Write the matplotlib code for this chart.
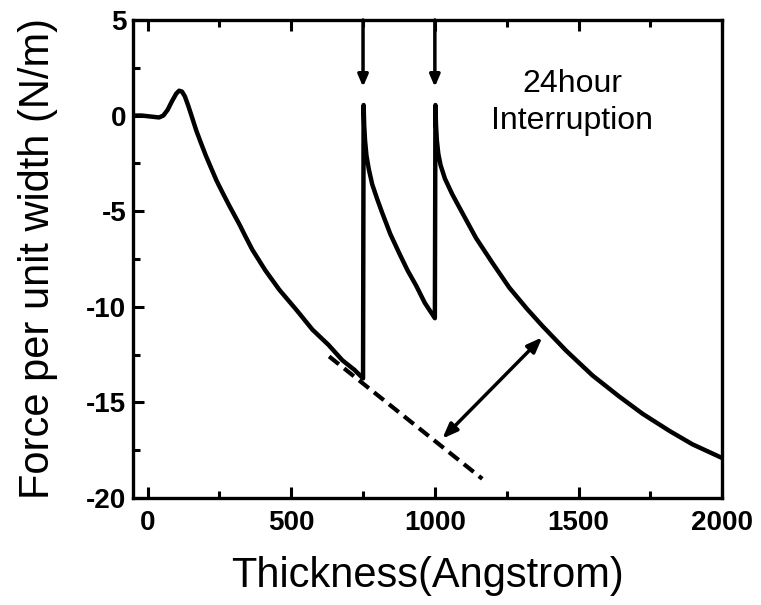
import matplotlib
matplotlib.use("Agg")
import matplotlib.pyplot as plt
from matplotlib.ticker import MultipleLocator

plt.rcParams['font.family'] = ['Liberation Sans', 'DejaVu Sans']
plt.rcParams['axes.unicode_minus'] = False

# Measured curve: growth, then two 24-hour interruptions at 750 and 1000 Angstrom
thickness = [-50, -20, 10, 40, 55, 70, 85, 100, 110, 120, 130, 142, 155, 170, 185, 203,
             220, 240, 260, 284, 320, 340, 364, 410, 458, 520, 574, 630, 678, 720, 750,
             752, 754, 757, 762, 770, 782, 800, 817, 845, 876, 905, 935, 965, 1000,
             1002, 1004, 1007, 1012, 1020, 1035, 1060, 1085, 1143, 1200, 1259, 1320,
             1374, 1457, 1549, 1642, 1723, 1817, 1897, 1998]
force = [0.0, 0.0, -0.05, -0.1, 0.0, 0.3, 0.75, 1.15, 1.3, 1.25, 1.0, 0.5, -0.1, -0.8, -1.4, -2.1,
         -2.7, -3.4, -4.0, -4.7, -5.7, -6.3, -7.0, -8.1, -9.1, -10.2, -11.2, -12.0, -12.8, -13.3, -13.75,
         0.55, -0.5, -1.3, -2.1, -2.8, -3.6, -4.4, -5.1, -6.2, -7.2, -8.1, -8.9, -9.8, -10.6,
         0.55, -0.5, -1.3, -2.0, -2.6, -3.3, -4.1, -4.8, -6.4, -7.7, -9.0, -10.1,
         -11.0, -12.3, -13.6, -14.7, -15.6, -16.5, -17.2, -17.9]

# Extrapolated (uninterrupted) trend, dashed
trend_x = [632, 1165]
trend_y = [-12.6, -19.0]

# Interruption markers
interrupt_x = [750, 1000]
interrupt_top = 5.0
interrupt_tip = 1.5

# Double arrow (difference)
darrow_start = (1026, -16.9)
darrow_end = (1374, -11.6)

xticks = [0, 500, 1000, 1500, 2000]
yticks = [5, 0, -5, -10, -15, -20]

fig = plt.figure(figsize=(7.61, 6.05), dpi=100)
ax = fig.add_axes([0.175, 0.177, 0.774, 0.790])

ax.plot(thickness, force, color='black', lw=3.2, solid_joinstyle='round', solid_capstyle='round')
ax.plot(trend_x, trend_y, color='black', lw=3.0, ls=(0, (3.0, 1.6)))

for xi in interrupt_x:
    ax.annotate('', xy=(xi, interrupt_tip), xytext=(xi, interrupt_top),
                arrowprops=dict(arrowstyle='-|>,head_length=0.7,head_width=0.3',
                                color='black', lw=2.5, shrinkA=0, shrinkB=0))

ax.annotate('', xy=darrow_start, xytext=darrow_end,
            arrowprops=dict(arrowstyle='<|-|>,head_length=0.9,head_width=0.35',
                            color='black', lw=2.5, shrinkA=0, shrinkB=0))

ax.text(1479, 0.66, '24hour\nInterruption', ha='center', va='center',
        fontsize=23, linespacing=1.3)

ax.set_xlim(-50, 2000)
ax.set_ylim(-20, 5)
ax.set_xticks(xticks)
ax.set_yticks(yticks)
ax.xaxis.set_minor_locator(MultipleLocator(250))
ax.yaxis.set_minor_locator(MultipleLocator(2.5))

for lab in ax.get_xticklabels() + ax.get_yticklabels():
    lab.set_fontweight('bold')
    lab.set_fontsize(20)

ax.tick_params(which='major', direction='in', length=8, width=2.2, top=True, right=False, pad=9)
ax.tick_params(which='minor', direction='in', length=5, width=2.2, top=True, right=False)
ax.tick_params(axis='y', which='major', pad=5)

for s in ax.spines.values():
    s.set_linewidth(2.4)

ax.set_xlabel('Thickness(Angstrom)', fontsize=30, labelpad=14)
ax.set_ylabel('Force per unit width (N/m)', fontsize=30, labelpad=20)

fig.savefig('out.png', dpi=100)
